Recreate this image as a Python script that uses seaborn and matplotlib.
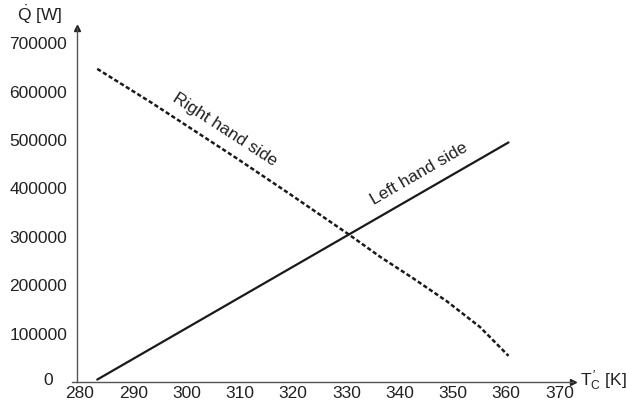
import matplotlib
matplotlib.use("Agg")
import matplotlib.pyplot as plt
import matplotlib.transforms as mtransforms
import seaborn as sns
import pandas as pd

# Data
lhs_T = [283.8, 361.0]
lhs_Q = [5000, 495000]

rhs_T = [283.8, 294.0, 310.0, 320.0, 331.0, 337.0, 343.0, 349.4, 355.6, 357.5, 361.0]
rhs_Q = [647000, 577000, 462000, 388000, 305000, 258000, 215000, 167000, 114000, 93000, 54000]

x_ticks = [280, 290, 300, 310, 320, 330, 340, 350, 360, 370]
y_ticks = [0, 100000, 200000, 300000, 400000, 500000, 600000, 700000]

sns.set_theme(style="white")
plt.rcParams['font.family'] = ['Liberation Sans', 'DejaVu Sans']
plt.rcParams['mathtext.fontset'] = 'custom'
plt.rcParams['mathtext.rm'] = 'Liberation Sans'
plt.rcParams['mathtext.it'] = 'Liberation Sans'
plt.rcParams['mathtext.sf'] = 'Liberation Sans'

fig = plt.figure(figsize=(6.26, 4.05), dpi=100)
ax = fig.add_axes([0.1145, 0.0568, 0.8008, 0.874])

df_l = pd.DataFrame({"T": lhs_T, "Q": lhs_Q})
df_r = pd.DataFrame({"T": rhs_T, "Q": rhs_Q})
sns.lineplot(data=df_l, x="T", y="Q", ax=ax, color="#1a1a1a", lw=1.6, sort=False)
sns.lineplot(data=df_r, x="T", y="Q", ax=ax, color="#1a1a1a", lw=1.8, sort=False,
             linestyle=(0, (1.7, 1.0)))

ax.set_xlim(279, 373.1)
ax.set_ylim(0, 731400)
ax.set_xticks(x_ticks)
ax.set_yticks(y_ticks)
ax.set_xticklabels([str(v) for v in x_ticks])
ax.set_yticklabels([str(v) for v in y_ticks])

for s in ["top", "right"]:
    ax.spines[s].set_visible(False)
ax.spines["left"].set_position(("data", 280))
for s in ["left", "bottom"]:
    ax.spines[s].set_color("#555555")
    ax.spines[s].set_linewidth(1.0)

ax.tick_params(axis="y", direction="out", length=4, width=1, color="#555555",
               labelsize=12.5, pad=3, labelcolor="#222222")
ax.tick_params(axis="x", direction="in", length=5, width=1, color="#555555",
               labelsize=12.5, pad=3, labelcolor="#222222")
ax.set_xlabel("")
ax.set_ylabel("")

# shift the "0" label left/up like the reference, and x labels a bit right
for lab in ax.get_yticklabels():
    if lab.get_text() == "0":
        lab.set_transform(lab.get_transform() +
                          mtransforms.ScaledTranslation(-14/100, 3/100, fig.dpi_scale_trans))
for lab in ax.get_xticklabels():
    lab.set_transform(lab.get_transform() +
                      mtransforms.ScaledTranslation(3/100, 0, fig.dpi_scale_trans))

# arrows at axis ends
ax.plot(1, 0, ">", color="#222222", ms=5, transform=ax.transAxes, clip_on=False)
ax.plot(280, 1, "^", color="#222222", ms=5,
        transform=ax.get_xaxis_transform(), clip_on=False)

fig.text(40/626, 1-15/405, r"$\dot{\mathrm{Q}}$ [W]", ha="center", va="center",
         fontsize=12.5, color="#222222")
fig.text(603/626, 1-381/405, r"$\mathrm{T}_{\mathrm{C}}^{\,\prime}$ [K]", ha="center", va="center",
         fontsize=12.5, color="#222222")

ax.text(307.8, 522000, "Right hand side", rotation=-33, ha="center", va="center",
        fontsize=12.5, color="#222222", rotation_mode="anchor")
ax.text(344.2, 430000, "Left hand side", rotation=30, ha="center", va="center",
        fontsize=12.5, color="#222222", rotation_mode="anchor")

fig.savefig("out.png", dpi=100)
